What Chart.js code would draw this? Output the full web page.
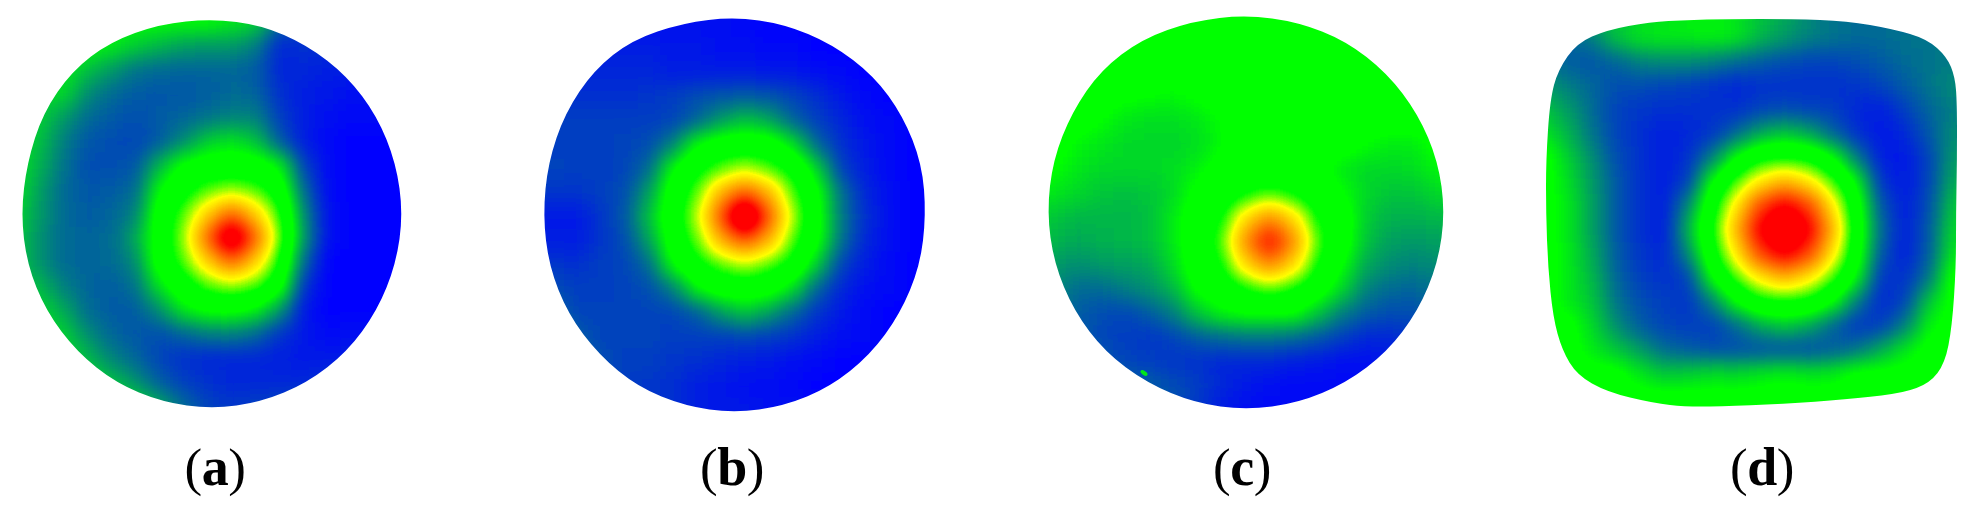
<!DOCTYPE html>
<html><head><meta charset="utf-8">
<script src="https://cdn.jsdelivr.net/npm/chart.js@4"></script>
<style>
html,body{margin:0;padding:0;background:#fff;width:1970px;height:508px;overflow:hidden}
#c{position:absolute;left:0;top:0;width:1970px;height:508px}
.lab{position:absolute;top:435px;transform:translateX(-50%);font:53px/1.2 "Liberation Serif",serif;letter-spacing:-.5px;color:#000;white-space:nowrap}
.lab b{font-weight:700;font-size:54px}
</style></head><body>
<canvas id="c" width="1970" height="508"></canvas>
<script>
const panelLetters = ['a','b','c','d'];
const valuesA = [
[33,33,33,33,33,33,33,33,33,31,28,14,9,7,6,6,6,6],
[33,33,33,33,33,33,33,33,33,31,28,14,9,7,6,6,6,6],
[33,33,33,33,31,27,24,21,20,20,16,5,6,6,6,6,6,6],
[33,33,31,25,20,15,14,13,13,13,12,5,5,4,4,4,4,4],
[30,28,28,18,14,12,11,11,12,14,13,6,4,3,2,2,2,2],
[30,27,20,14,12,10,12,13,15,17,17,8,4,2,1,1,1,1],
[30,25,16,11,10,9,12,18,27,30,26,12,4,1,0,0,0,0],
[30,23,15,10,10,11,24,36,38,38,38,32,9,1,0,0,0,0],
[30,21,14,11,12,14,33,42,50,54,50,40,14,1,0,0,0,0],
[28,20,14,12,13,17,38,50,68,84,68,48,18,2,0,0,0,0],
[27,19,14,13,14,22,38,54,84,118,84,52,20,2,0,0,0,0],
[27,19,14,13,14,18,38,50,68,84,68,46,14,0,0,0,0,0],
[27,24,16,13,12,15,30,40,50,54,50,38,7,0,0,0,0,0],
[28,28,22,14,12,12,19,31,35,36,32,20,3,0,0,0,0,0],
[30,30,27,18,13,11,10,13,16,17,14,7,3,1,2,2,2,2],
[30,30,30,24,17,13,9,6,5,5,5,4,3,3,4,4,4,4],
[30,30,30,30,25,19,12,8,6,5,5,5,5,6,6,6,6,6],
[30,30,30,30,30,30,22,14,9,7,8,9,10,10,10,10,10,10],
[30,30,30,30,30,30,22,14,9,7,8,9,10,10,10,10,10,10]];
const valuesB = [
[2,2,2,2,2,2,2,2,2,1,0,0,0,0,0,0,0,0],
[2,2,2,2,2,2,2,2,2,1,0,0,0,0,0,0,0,0],
[4,4,4,4,4,4,3,3,2,2,1,1,0,0,0,0,0,0],
[6,6,5,5,5,5,4,4,4,4,3,3,2,1,0,0,0,0],
[6,6,6,6,6,7,8,10,11,12,11,9,6,3,1,0,0,0],
[8,8,8,8,8,8,9,13,20,26,22,13,8,5,2,1,0,0],
[8,8,8,8,9,10,17,33,39,40,39,30,14,6,3,1,0,0],
[9,9,8,8,9,14,33,43,50,56,50,43,28,9,4,1,0,0],
[8,7,7,8,10,21,38,50,72,86,72,50,36,15,5,2,0,0],
[4,3,3,7,11,25,40,56,86,128,86,56,37,16,6,2,0,0],
[5,4,4,7,10,21,38,50,72,86,72,50,36,15,5,2,0,0],
[9,7,6,8,9,14,33,43,50,56,50,43,27,9,4,1,0,0],
[14,10,8,8,9,10,16,32,38,39,38,29,13,5,2,1,0,0],
[20,14,9,9,9,9,9,12,20,26,21,13,7,3,1,0,0,0],
[22,20,12,9,9,9,8,8,8,9,8,6,4,2,1,0,0,0],
[20,20,16,10,8,8,7,6,5,4,3,2,1,0,0,0,0,0],
[15,15,12,10,8,7,6,4,3,2,2,1,0,0,0,0,0,0],
[10,10,9,9,8,7,6,4,3,3,2,2,1,1,1,1,1,1],
[10,10,9,9,8,7,6,4,3,3,2,2,1,1,1,1,1,1]];
const valuesC = [
[36,36,36,36,36,36,36,36,36,36,36,36,36,36,36,36,36,36,36],
[36,36,36,36,36,36,36,36,36,36,36,36,36,36,36,36,36,36,36],
[36,36,36,36,36,36,36,36,36,36,36,36,36,36,36,36,36,36,36],
[36,36,36,36,36,36,36,36,36,36,36,36,36,36,36,36,36,36,36],
[36,36,36,36,34,33,32,34,36,36,36,36,36,36,36,36,36,36,36],
[36,36,36,33,30,29,29,30,33,36,36,36,36,36,36,36,36,36,36],
[36,36,32,30,28,28,28,29,33,36,36,36,36,36,33,31,31,35,36],
[36,34,30,28,28,28,29,32,36,36,36,36,36,31,28,28,29,32,36],
[30,30,28,26,25,26,29,35,38,45,50,45,38,34,28,26,26,28,30],
[28,26,24,24,24,25,31,38,45,66,78,66,45,38,27,23,23,24,26],
[27,24,22,23,24,25,31,38,50,78,100,78,50,38,26,21,20,21,23],
[25,20,18,20,21,22,29,38,45,66,78,66,45,34,22,18,17,18,20],
[22,18,14,14,16,19,24,35,38,45,50,45,38,28,17,14,13,15,17],
[22,16,12,10,9,12,16,26,32,34,34,34,26,16,12,10,10,13,15],
[20,15,13,9,8,7,9,12,14,15,15,14,11,8,5,5,7,10,12],
[18,16,14,12,9,8,7,6,5,5,5,4,3,2,2,3,5,8,10],
[16,15,14,13,13,12,10,8,5,3,2,1,1,1,2,3,5,7,9],
[14,14,14,14,13,12,10,7,3,2,1,1,1,1,2,3,5,7,9],
[14,14,14,14,13,12,10,7,3,2,1,1,1,1,2,3,5,7,9]];
const valuesD = [
[20,20,22,24,26,28,30,32,32,30,26,22,18,15,14,14,14,14,14,14],
[20,20,22,24,26,28,30,32,32,30,26,22,18,15,14,14,14,14,14,14],
[15,15,13,16,26,30,31,31,32,30,24,20,17,15,14,14,15,15,16,16],
[15,15,12,11,13,17,18,18,16,14,12,10,9,9,10,12,14,15,16,16],
[20,20,16,13,10,10,9,8,6,5,6,6,6,6,7,9,12,15,18,18],
[26,26,20,14,9,7,6,6,6,6,9,10,9,8,5,4,8,13,16,16],
[30,30,23,15,9,6,4,5,7,14,22,26,22,13,6,3,5,11,18,18],
[36,36,27,18,10,6,4,6,17,34,44,46,44,34,16,4,3,9,20,20],
[36,36,29,20,11,6,4,9,34,50,64,72,64,50,32,7,3,9,22,28],
[36,36,30,21,11,6,4,18,42,64,90,102,90,64,38,11,4,10,26,30],
[36,36,30,21,11,6,4,24,46,72,102,125,102,72,40,14,4,11,28,31],
[36,36,31,22,12,7,5,18,42,64,90,102,90,64,38,11,4,12,30,36],
[36,36,31,24,13,8,6,9,34,50,64,72,64,50,32,7,6,15,36,36],
[36,36,31,26,15,10,8,7,17,34,44,46,44,34,16,5,9,26,36,36],
[36,36,36,28,18,12,9,8,8,14,22,26,22,13,7,8,16,32,36,36],
[36,36,36,31,26,20,14,12,10,10,10,10,10,12,15,22,30,36,36,36],
[36,36,36,36,36,30,26,27,29,28,30,32,30,31,36,36,36,36,36,36],
[36,36,36,36,36,36,36,36,36,36,36,36,36,36,36,36,36,36,36,36],
[36,36,36,36,36,36,36,36,36,36,36,36,36,36,36,36,36,36,36,36]];
const boundaryA = [[403,214],[396,264],[377,311],[347,352],[307,383],[261,402],[212,409],[162,402],[116,383],[77,352],[46,311],[27,264],[21,214],[27,163],[43,113],[72,71],[110,42],[160,24],[212,19],[261,25],[307,45],[347,76],[377,116],[396,163]];
const boundaryB = [[926,215],[920,266],[900,314],[870,355],[830,387],[784,406],[734,413],[685,406],[638,387],[599,355],[568,314],[549,266],[543,215],[548,163],[565,113],[594,70],[632,40],[683,23],[734,17],[784,24],[832,44],[874,76],[903,116],[922,164]];
const boundaryC = [[1445,212],[1438,263],[1418,311],[1387,352],[1346,383],[1298,403],[1246,410],[1195,403],[1147,383],[1105,352],[1074,311],[1054,263],[1047,212],[1053,160],[1072,112],[1101,70],[1142,39],[1193,21],[1246,15],[1298,22],[1346,41],[1387,73],[1418,114],[1438,161]];
const boundaryD = [[1727,19],[1793,19],[1847,21],[1893,29],[1927,39],[1947,57],[1955,77],[1957,103],[1957,160],[1956,213],[1956,267],[1952,327],[1945,363],[1930,383],[1903,393],[1860,398],[1800,403],[1733,406],[1687,407],[1653,403],[1607,392],[1577,375],[1562,350],[1553,317],[1548,267],[1546,213],[1546,160],[1550,100],[1558,70],[1577,43],[1607,30],[1650,22],[1687,20]];
const speckC = [{x:1144,y:373,v:30}];

const panels = [
 {values:valuesA,boundary:boundaryA,ox:16,oy:-2,labelX:215},
 {values:valuesB,boundary:boundaryB,ox:529,oy:1,labelX:732},
 {values:valuesC,boundary:boundaryC,ox:1030,oy:2,labelX:1242},
 {values:valuesD,boundary:boundaryD,ox:1521,oy:-10,labelX:1762}];
const CELL=24, VMAX=160, BLUR=10;
const gray=v=>Math.min(255,Math.round(v/VMAX*255));
function ramp(v){
  if(v<=33.3){const k=v/33.3;return [0,255*k,255*(1-k)];}
  if(v<=46)return [0,255,0];
  if(v<=60){const k=(v-46)/14;return [255*k,255,0];}
  const k=Math.min(1,(v-60)/40);return [255,255*(1-k),0];
}
const heatPlugin={id:'heat',afterDatasetsDraw(chart){
  const cv=chart.canvas,ctx=chart.ctx,W=cv.width,H=cv.height;
  const t=document.createElement('canvas');t.width=W;t.height=H;
  const tc=t.getContext('2d',{willReadFrequently:true});
  tc.filter=`blur(${BLUR}px)`;tc.drawImage(cv,0,0);tc.filter='none';
  const im=tc.getImageData(0,0,W,H),d=im.data;
  const lut=[];for(let i=0;i<256;i++)lut.push(ramp(i/255*VMAX));
  for(let i=0;i<d.length;i+=4){ if(d[i+3]===0)continue;
    const c=lut[d[i]];d[i]=c[0];d[i+1]=c[1];d[i+2]=c[2];d[i+3]=255;}
  tc.putImageData(im,0,0);
  ctx.save();ctx.setTransform(1,0,0,1,0,0);ctx.clearRect(0,0,W,H);
  const xs=chart.scales.x,ys=chart.scales.y;
  ctx.save();ctx.beginPath();
  panels.forEach(p=>{
    const pts=p.boundary.map(b=>[xs.getPixelForValue(b[0]),ys.getPixelForValue(b[1])]);
    const n=pts.length,m=(a,b)=>[(a[0]+b[0])/2,(a[1]+b[1])/2];
    const s=m(pts[n-1],pts[0]);ctx.moveTo(s[0],s[1]);
    for(let i=0;i<n;i++){const e=m(pts[i],pts[(i+1)%n]);ctx.quadraticCurveTo(pts[i][0],pts[i][1],e[0],e[1]);}
    ctx.closePath();
  });
  ctx.clip();ctx.drawImage(t,0,0);ctx.restore();
  speckC.forEach(s=>{const c=ramp(s.v);ctx.fillStyle=`rgb(${c[0]},${c[1]},${c[2]})`;
    ctx.beginPath();ctx.ellipse(xs.getPixelForValue(s.x),ys.getPixelForValue(s.y),4,2,0.6,0,Math.PI*2);ctx.fill();});
  ctx.restore();
}};
new Chart(document.getElementById('c'),{
  type:'scatter',
  data:{datasets:panels.map(p=>{
    const pts=[];p.values.forEach((row,j)=>row.forEach((v,i)=>pts.push({x:p.ox+i*CELL,y:p.oy+j*CELL,v})));
    return {data:pts,pointStyle:'rect',pointRadius:CELL/Math.SQRT2+0.6,pointBorderWidth:0,borderWidth:0,clip:false,
      backgroundColor:c=>{const g=gray(c.raw?c.raw.v:0);return `rgb(${g},${g},${g})`;}};
  })},
  options:{responsive:false,animation:false,devicePixelRatio:1,layout:{padding:0,autoPadding:false},events:[],
    plugins:{legend:{display:false},tooltip:{enabled:false},title:{display:false}},
    scales:{x:{type:'linear',min:0,max:1970,display:false},y:{type:'linear',min:0,max:508,reverse:true,display:false}}},
  plugins:[heatPlugin]
});
panels.forEach((p,i)=>{const e=document.createElement('div');e.className='lab';e.style.left=p.labelX+'px';
  e.innerHTML='(<b>'+panelLetters[i]+'</b>)';document.body.appendChild(e);});
</script></body></html>
